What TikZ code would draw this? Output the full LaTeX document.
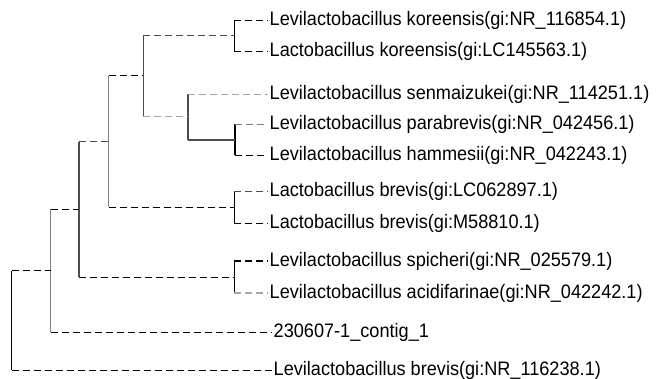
\documentclass[tikz,border=0pt]{standalone}
\usepackage{fontspec}
\setmainfont{Liberation Sans}[FakeStretch=0.93]
\begin{document}
\begin{tikzpicture}[x=1pt,y=-1pt,
  leaf/.style={anchor=west,inner sep=1.5pt,font=\fontsize{19.5}{21}\selectfont},
  dsh/.style={dash pattern=on 7pt off 4pt,line width=1.2pt},
  solidln/.style={line width=1.2pt},
  thick2/.style={line width=2pt},
  blk/.style={draw=black},
  dgray/.style={draw=black!70},
  mgray/.style={draw=black!50},
  lgray/.style={draw=black!35}]
\useasboundingbox (0,0) rectangle (662,379);

% leaves
\node[leaf] (l1) at (268,20.7) {Levilactobacillus koreensis(gi:NR\_116854.1)};
\node[leaf] (l2) at (268,51.7) {Lactobacillus koreensis(gi:LC145563.1)};
\node[leaf] (l3) at (268,94.3) {Levilactobacillus senmaizukei(gi:NR\_114251.1)};
\node[leaf] (l4) at (268,124.3) {Levilactobacillus parabrevis(gi:NR\_042456.1)};
\node[leaf] (l5) at (268,155.3) {Levilactobacillus hammesii(gi:NR\_042243.1)};
\node[leaf] (l6) at (268,191.7) {Lactobacillus brevis(gi:LC062897.1)};
\node[leaf] (l7) at (268,223.3) {Lactobacillus brevis(gi:M58810.1)};
\node[leaf] (l8) at (268,261) {Levilactobacillus spicheri(gi:NR\_025579.1)};
\node[leaf] (l9) at (268,293) {Levilactobacillus acidifarinae(gi:NR\_042242.1)};
\node[leaf] (l10) at (272,332.3) {230607-1\_contig\_1};
\node[leaf] (l11) at (272,370.3) {Levilactobacillus brevis(gi:NR\_116238.1)};

% internal node coordinates
\coordinate (kt) at (234.3,20.7);  \coordinate (km) at (234.3,35.7);  \coordinate (kb) at (234.3,51.7);
\coordinate (pt) at (235,124.3);   \coordinate (pm) at (235,140);     \coordinate (pb) at (235,155.3);
\coordinate (st) at (187.7,94.3);  \coordinate (sm) at (187.7,116.7); \coordinate (sb) at (187.7,140);
\coordinate (at) at (143.3,35.7);  \coordinate (am) at (143.3,75.7);  \coordinate (ab) at (143.3,116.7);
\coordinate (bt) at (234.3,191.7); \coordinate (bm) at (234.3,207.3); \coordinate (bb) at (234.3,223.3);
\coordinate (ct) at (108.7,75.7);  \coordinate (cm) at (108.7,141.7); \coordinate (cb) at (108.7,207.3);
\coordinate (qt) at (234.3,261);   \coordinate (qm) at (234.3,277.3); \coordinate (qb) at (234.3,293);
\coordinate (dt) at (78.7,141.7);  \coordinate (dm) at (78.7,209.3);  \coordinate (db) at (78.7,277.3);
\coordinate (et) at (50.7,209.3);  \coordinate (em) at (50.7,270.7);  \coordinate (eb) at (50.7,332.3);
\coordinate (rt) at (11.7,270.7);  \coordinate (rb) at (11.7,370.3);

% koreensis cluster
\draw[solidln,blk] (kt) -- (kb);
\draw[dsh,blk] (kt) -- (l1.west);
\draw[dsh,blk] (kb) -- (l2.west);
% parabrevis / hammesii
\draw[solidln,blk] (pt) -- (pb);
\draw[dsh,mgray] (pt) -- (l4.west);
\draw[dsh,blk] (pb) -- (l5.west);
% senmaizukei node
\draw[thick2,dgray] (st) -- (sb);
\draw[dsh,lgray] (st) -- (l3.west);
\draw[thick2,dgray] (sb) -- (pm);
% node a
\draw[solidln,dgray] (at) -- (ab);
\draw[dsh,dgray] (at) -- (km);
\draw[dsh,lgray] (ab) -- (sm);
% brevis cluster
\draw[solidln,blk] (bt) -- (bb);
\draw[dsh,dgray] (bt) -- (l6.west);
\draw[dsh,blk] (bb) -- (l7.west);
% node c
\draw[solidln,mgray] (ct) -- (cb);
\draw[dsh,blk] (ct) -- (am);
\draw[dsh,blk] (cb) -- (bm);
% spicheri cluster
\draw[solidln,blk] (qt) -- (qb);
\draw[dsh,blk] (qt) -- (l8.west);
\draw[dsh,lgray] (qb) -- (l9.west);
% node d
\draw[thick2,dgray] (dt) -- (db);
\draw[dsh,dgray] (dt) -- (cm);
\draw[dsh,blk] (db) -- (qm);
% node e
\draw[solidln,mgray] (et) -- (eb);
\draw[dsh,blk] (et) -- (dm);
\draw[dsh,blk] (eb) -- (l10.west);
% root
\draw[solidln,blk] (rt) -- (rb);
\draw[dsh,blk] (rt) -- (em);
\draw[dsh,blk] (rb) -- (l11.west);
\end{tikzpicture}
\end{document}
